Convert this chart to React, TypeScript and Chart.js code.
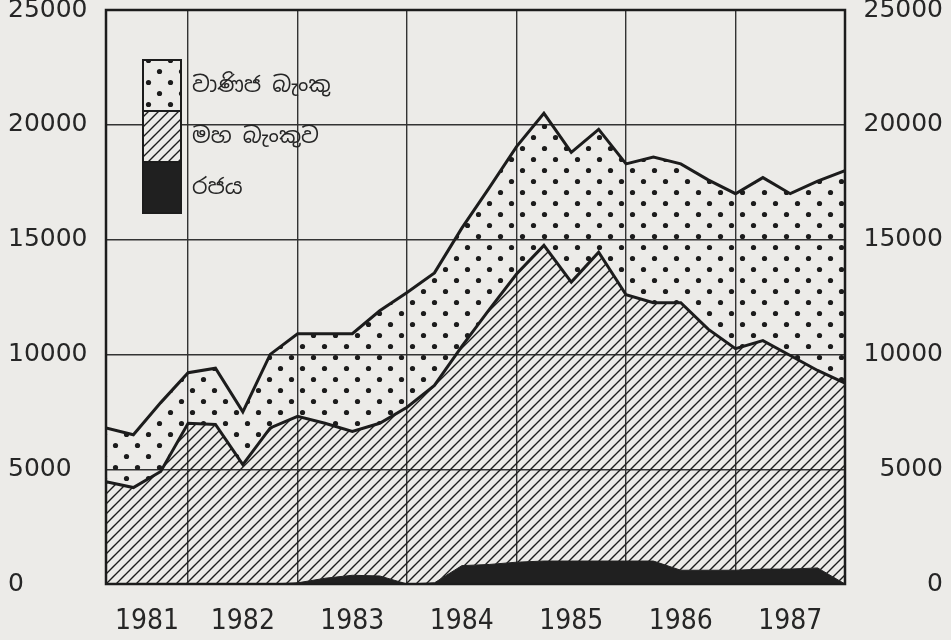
import React, { useEffect, useRef } from 'react';
import { Chart, registerables } from 'chart.js';

Chart.register(...registerables);

// ---- data (quarterly, 1981 Q1 .. 1987 Q4) ----
const years = ['1981', '1982', '1983', '1984', '1985', '1986', '1987'];
const quarters = years.flatMap((y) => ['Q1', 'Q2', 'Q3', 'Q4'].map((q) => `${y} ${q}`));

const seriesLabels = ['රජය', 'මහ බැංකුව', 'වාණිජ බැංකු'];

const government = [
  0, 0, 0, 0, 0, 0, 0, 50, 250, 380, 350, 0, 50, 800,
  850, 950, 1000, 1000, 1000, 1000, 1000, 600, 600, 600, 650, 650, 700, 0,
];
const centralBank = [
  4450, 4200, 4900, 7000, 6950, 5200, 6800, 7250, 6750, 6270, 6650, 7700, 8600, 9550,
  11100, 12550, 13750, 12150, 13450, 11600, 11250, 11650, 10500, 9650, 9950, 9300, 8600, 8750,
];
const commercialBanks = [
  2350, 2300, 3000, 2200, 2450, 2300, 3200, 3600, 3900, 4250, 4900, 5000, 4900, 5150,
  5300, 5550, 5750, 5650, 5350, 5700, 6350, 6050, 6500, 6750, 7100, 7050, 8250, 9250,
];

const yTicks = [0, 5000, 10000, 15000, 20000, 25000];

// year label positions: middle of each year's span of quarter points
const yearLabelPos = years.map((_, k) => (Math.max(0, 4 * k - 1) + 4 * k + 3) / 2);

const INK = '#1c1c1c';
const PAPER = '#ecebe8';

function makeDots(): CanvasPattern | string {
  const c = document.createElement('canvas');
  c.width = 22;
  c.height = 22;
  const g = c.getContext('2d');
  if (!g) return 'transparent';
  g.fillStyle = INK;
  const pts = [
    [5.5, 5.5],
    [16.5, 16.5],
  ];
  for (const [x, y] of pts) {
    g.beginPath();
    g.arc(x, y, 2.6, 0, Math.PI * 2);
    g.fill();
  }
  return g.createPattern(c, 'repeat') || 'transparent';
}

function makeHatch(): CanvasPattern | string {
  const s = 10;
  const c = document.createElement('canvas');
  c.width = s;
  c.height = s;
  const g = c.getContext('2d');
  if (!g) return 'transparent';
  g.strokeStyle = INK;
  g.lineWidth = 1.4;
  g.beginPath();
  g.moveTo(-1, s + 1);
  g.lineTo(s + 1, -1);
  g.moveTo(-2, 2);
  g.lineTo(2, -2);
  g.moveTo(s - 2, s + 2);
  g.lineTo(s + 2, s - 2);
  g.stroke();
  return g.createPattern(c, 'repeat') || 'transparent';
}

const framePlugin = {
  id: 'frame',
  afterDatasetsDraw(chart: any) {
    const { ctx, chartArea: a } = chart;
    ctx.save();
    ctx.strokeStyle = INK;
    ctx.lineWidth = 2.5;
    ctx.strokeRect(a.left, a.top, a.right - a.left, a.bottom - a.top);
    ctx.restore();
  },
};

const legendPlugin = {
  id: 'boxLegend',
  afterDraw(chart: any) {
    const { ctx, chartArea: a } = chart;
    const ds = chart.data.datasets.slice().reverse();
    const bx = a.left + 37;
    const bw = 38;
    const bh = 51;
    let by = a.top + 50;
    ctx.save();
    for (const d of ds) {
      ctx.fillStyle = PAPER;
      ctx.fillRect(bx, by, bw, bh);
      ctx.fillStyle = d.backgroundColor;
      ctx.fillRect(bx, by, bw, bh);
      ctx.strokeStyle = INK;
      ctx.lineWidth = 2;
      ctx.strokeRect(bx, by, bw, bh);
      ctx.fillStyle = '#262626';
      ctx.font = '22px "Noto Sans Sinhala", "Noto Sans", "DejaVu Sans", sans-serif';
      ctx.textAlign = 'left';
      ctx.textBaseline = 'middle';
      ctx.fillText(d.label, bx + bw + 11, by + bh / 2);
      by += bh;
    }
    ctx.restore();
  },
};

export default function App() {
  const ref = useRef<HTMLCanvasElement | null>(null);

  useEffect(() => {
    if (!ref.current) return;
    const dots = makeDots();
    const hatch = makeHatch();
    const pts = (arr: number[]) => arr.map((v, i) => ({ x: i, y: v }));
    const noVPad = (s: any) => {
      s.width = 98;
      s.paddingTop = 0;
      s.paddingBottom = 0;
    };

    const chart = new Chart(ref.current, {
      type: 'line',
      data: {
        labels: quarters,
        datasets: [
          {
            label: seriesLabels[0],
            data: pts(government),
            backgroundColor: '#202020',
            borderColor: '#202020',
            borderWidth: 1,
            fill: 'origin',
            pointRadius: 0,
            tension: 0,
          },
          {
            label: seriesLabels[1],
            data: pts(centralBank),
            backgroundColor: hatch as any,
            borderColor: INK,
            borderWidth: 3,
            fill: '-1',
            pointRadius: 0,
            tension: 0,
          },
          {
            label: seriesLabels[2],
            data: pts(commercialBanks),
            backgroundColor: dots as any,
            borderColor: INK,
            borderWidth: 3,
            fill: '-1',
            pointRadius: 0,
            tension: 0,
          },
        ],
      },
      options: {
        responsive: false,
        animation: false,
        layout: { padding: { top: 10, left: 8, right: 8, bottom: 0 } },
        plugins: {
          legend: { display: false },
          tooltip: { enabled: false },
        },
        scales: {
          x: {
            type: 'linear',
            min: 0,
            max: quarters.length - 1,
            border: { display: false },
            grid: {
              drawTicks: false,
              lineWidth: 1.4,
              color: (c: any) => {
                const v = c.tick && c.tick.value;
                return Number.isInteger(v) && v % 4 === 3 && v < quarters.length - 1
                  ? '#333'
                  : 'transparent';
              },
            },
            ticks: {
              stepSize: 0.5,
              autoSkip: false,
              maxRotation: 0,
              padding: 21,
              color: '#262626',
              font: { family: '"Liberation Sans Narrow", "DejaVu Sans Condensed", sans-serif', size: 28 },
              callback: (v: any) => {
                const i = yearLabelPos.indexOf(Number(v));
                return i >= 0 ? years[i] : '';
              },
            },
            afterFit: (s: any) => {
              s.height = 56;
              s.paddingLeft = 0;
              s.paddingRight = 0;
            },
          },
          y: {
            type: 'linear',
            stacked: true,
            min: yTicks[0],
            max: yTicks[yTicks.length - 1],
            border: { display: false },
            grid: {
              drawTicks: false,
              lineWidth: 1.4,
              color: (c: any) => {
                const v = c.tick && c.tick.value;
                return v === yTicks[0] || v === yTicks[yTicks.length - 1] ? 'transparent' : '#333';
              },
            },
            ticks: {
              stepSize: yTicks[1] - yTicks[0],
              crossAlign: 'far',
              color: '#262626',
              font: { family: '"DejaVu Sans", sans-serif', size: 25 },
              callback: (v: any) => String(v),
            },
            afterFit: noVPad,
          },
          y2: {
            type: 'linear',
            position: 'right',
            min: yTicks[0],
            max: yTicks[yTicks.length - 1],
            border: { display: false },
            grid: { display: false, drawTicks: false },
            ticks: {
              stepSize: yTicks[1] - yTicks[0],
              crossAlign: 'far',
              color: '#262626',
              font: { family: '"DejaVu Sans", sans-serif', size: 25 },
              callback: (v: any) => String(v),
            },
            afterFit: noVPad,
          },
        },
      } as any,
      plugins: [framePlugin, legendPlugin],
    });

    return () => chart.destroy();
  }, []);

  return (
    <div
      style={{
        position: 'absolute',
        left: 0,
        top: 0,
        width: 951,
        height: 640,
        background: PAPER,
        overflow: 'hidden',
      }}
    >
      <canvas ref={ref} width={951} height={640} style={{ display: 'block', width: 951, height: 640 }} />
    </div>
  );
}
